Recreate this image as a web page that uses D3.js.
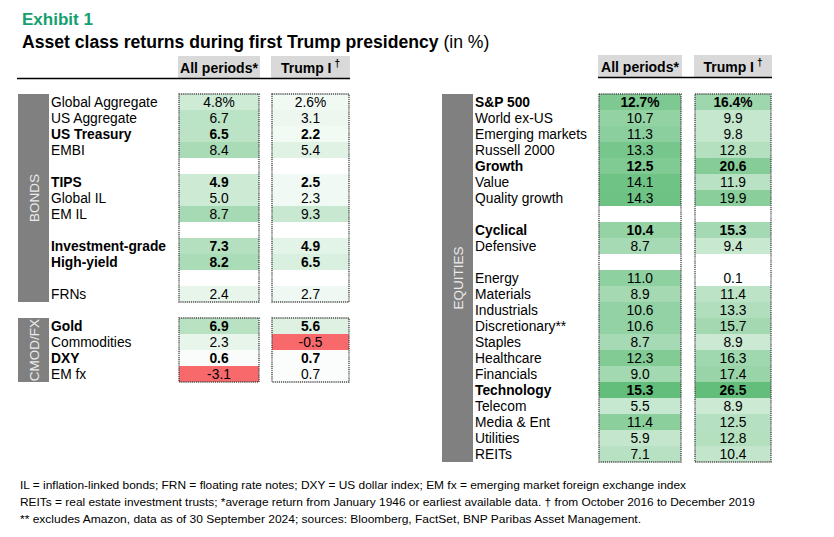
<!DOCTYPE html>
<html>
<head>
<meta charset="utf-8">
<title>Asset class returns during first Trump presidency</title>
<style>
    body { margin: 0; background: #fff; }
    svg { font-family: "Liberation Sans", Arial, sans-serif; }
</style>
</head>
<body>
<script src="https://d3js.org/d3.v7.min.js"></script>
<script>
    // rows of each block; null = blank spacer row
    const bondLabels = ["Global Aggregate", "US Aggregate", "US Treasury", "EMBI", null, "TIPS", "Global IL", "EM IL", null, "Investment-grade", "High-yield", null, "FRNs"];
    const bondAll    = [4.8, 6.7, 6.5, 8.4, null, 4.9, 5.0, 8.7, null, 7.3, 8.2, null, 2.4];
    const bondTrump  = [2.6, 3.1, 2.2, 5.4, null, 2.5, 2.3, 9.3, null, 4.9, 6.5, null, 2.7];

    const cmodLabels = ["Gold", "Commodities", "DXY", "EM fx"];
    const cmodAll    = [6.9, 2.3, 0.6, -3.1];
    const cmodTrump  = [5.6, -0.5, 0.7, 0.7];

    const eqLabels = ["S&P 500", "World ex-US", "Emerging markets", "Russell 2000", "Growth", "Value", "Quality growth", null,
        "Cyclical", "Defensive", null,
        "Energy", "Materials", "Industrials", "Discretionary**", "Staples", "Healthcare", "Financials", "Technology",
        "Telecom", "Media & Ent", "Utilities", "REITs"];
    const eqAll   = [12.7, 10.7, 11.3, 13.3, 12.5, 14.1, 14.3, null, 10.4, 8.7, null, 11.0, 8.9, 10.6, 10.6, 8.7, 12.3, 9.0, 15.3, 5.5, 11.4, 5.9, 7.1];
    const eqTrump = [16.4, 9.9, 9.8, 12.8, 20.6, 11.9, 19.9, null, 15.3, 9.4, null, 0.1, 11.4, 13.3, 15.7, 8.9, 16.3, 17.4, 26.5, 8.9, 12.5, 12.8, 10.4];

    const boldRows = ["US Treasury", "TIPS", "Investment-grade", "High-yield", "Gold", "DXY", "S&P 500", "Growth", "Cyclical", "Technology"];
    const colHeads = ["All periods*", "Trump I"];

    const footnotes = [
        "IL = inflation-linked bonds; FRN = floating rate notes; DXY = US dollar index; EM fx = emerging market foreign exchange index",
        "REITs = real estate investment trusts; *average return from January 1946 or earliest available data. \u2020 from October 2016 to December 2019",
        "** excludes Amazon, data as of 30 September 2024; sources: Bloomberg, FactSet, BNP Paribas Asset Management."
    ];

    const width = 834, height = 537, rowH = 16;

    const svg = d3.select("body").append("svg")
        .attr("width", width)
        .attr("height", height);

    // title
    svg.append("text").attr("x", 22).attr("y", 25)
        .attr("font-size", 17).attr("font-weight", "bold").attr("fill", "#14a06e")
        .text("Exhibit 1");
    const t = svg.append("text").attr("x", 22).attr("y", 48)
        .attr("font-size", 17.6).attr("font-weight", "bold").attr("fill", "#000");
    t.append("tspan").text("Asset class returns during first Trump presidency ");
    t.append("tspan").attr("font-weight", "normal").text("(in %)");

    // colour scale per column (Excel style red - white - green, white at 0)
    const allVals = bondAll.concat(cmodAll, eqAll).filter(v => v != null);
    const trumpVals = bondTrump.concat(cmodTrump, eqTrump).filter(v => v != null);
    const makeColor = vals => d3.scaleLinear()
        .domain([d3.min(vals), 0, d3.max(vals)])
        .range(["#F8696B", "#FFFFFF", "#63BE7B"])
        .interpolate(d3.interpolateRgb);
    const colorAll = makeColor(allVals);
    const colorTrump = makeColor(trumpVals);

    const fmt = (v, pct) => v.toFixed(1) + (pct ? "%" : "");

    function header(cols, y0, lineX0, lineX1) {
        cols.forEach((c, k) => {
            svg.append("rect").attr("x", c.x - 1).attr("y", y0).attr("width", c.w + 2).attr("height", 22)
                .attr("fill", "#d9d9d9");
            const tx = svg.append("text").attr("x", c.x + c.w / 2).attr("y", y0 + 17)
                .attr("text-anchor", "middle").attr("font-size", 14).attr("font-weight", "bold")
                .text(colHeads[k]);
            if (k === 1) tx.append("tspan").attr("dy", -6).attr("font-size", 10).attr("dx", 3).text("\u2020");
        });
        svg.append("line").attr("x1", lineX0).attr("x2", lineX1)
            .attr("y1", y0 + 22.5).attr("y2", y0 + 22.5)
            .attr("stroke", "#000").attr("stroke-width", 1.5);
    }

    function block(labels, all, trump, y0, barX, labelX, cols, section, pctFirst) {
        const y = d3.scaleBand().domain(d3.range(labels.length))
            .range([y0, y0 + rowH * labels.length]);
        const g = svg.append("g");

        // section bar
        g.append("rect").attr("x", barX).attr("y", y0).attr("width", 31).attr("height", rowH * labels.length)
            .attr("fill", "#808080");
        g.append("text")
            .attr("transform", `translate(${barX + 20.5},${y0 + rowH * labels.length / 2}) rotate(-90)`)
            .attr("text-anchor", "middle").attr("font-size", 13.5).attr("fill", "#ebebeb")
            .attr("font-family", "'Liberation Sans Narrow', 'Liberation Sans', Arial, sans-serif")
            .text(section);

        // labels
        g.selectAll(".lab").data(labels.map((d, i) => ({ d, i })).filter(o => o.d))
            .join("text")
            .attr("x", labelX).attr("y", o => y(o.i) + 12.5)
            .attr("font-size", 13.8)
            .attr("font-weight", o => boldRows.includes(o.d) ? "bold" : "normal")
            .text(o => o.d);

        [all, trump].forEach((vals, k) => {
            const c = cols[k];
            const color = k === 0 ? colorAll : colorTrump;
            g.append("rect").attr("x", c.x).attr("y", y0).attr("width", c.w).attr("height", rowH * labels.length)
                .attr("fill", "#fff");
            const rows = vals.map((v, i) => ({ v, i })).filter(o => o.v != null);
            g.selectAll(".cell" + k).data(rows).join("rect")
                .attr("x", c.x).attr("y", o => y(o.i))
                .attr("width", c.w).attr("height", y.bandwidth())
                .attr("fill", o => color(o.v));
            g.selectAll(".val" + k).data(rows).join("text")
                .attr("x", c.x + c.w / 2).attr("y", o => y(o.i) + 12.5)
                .attr("text-anchor", "middle").attr("font-size", 13.8)
                .attr("font-weight", o => boldRows.includes(labels[o.i]) ? "bold" : "normal")
                .text(o => fmt(o.v, pctFirst && o.i === 0));
            g.append("rect").attr("x", c.x).attr("y", y0).attr("width", c.w).attr("height", rowH * labels.length)
                .attr("fill", "none").attr("stroke", "#4a4a4a").attr("stroke-width", 1.4)
                .attr("stroke-dasharray", "1.2 0.9");
        });
    }

    const leftCols = [{ x: 179, w: 80 }, { x: 272, w: 77 }];
    const rightCols = [{ x: 599, w: 82 }, { x: 695, w: 76 }];

    header(leftCols, 56, 17, 350);
    header(rightCols, 55, 598, 772);

    block(bondLabels, bondAll, bondTrump, 94, 18, 51, leftCols, "BONDS", true);
    block(cmodLabels, cmodAll, cmodTrump, 318, 18, 51, leftCols, "CMOD/FX", false);
    block(eqLabels, eqAll, eqTrump, 94, 442, 475, rightCols, "EQUITIES", true);

    // footnotes
    const fnWidths = [666, 735, 621];
    svg.selectAll(".fn").data(footnotes).join("text")
        .attr("x", 20).attr("y", (d, i) => 489 + i * 17)
        .attr("font-size", 11.5)
        .attr("font-family", "'Liberation Sans Narrow', 'Liberation Sans', Arial, sans-serif")
        .attr("textLength", (d, i) => fnWidths[i])
        .attr("lengthAdjust", "spacingAndGlyphs")
        .text(d => d);
</script>
</body>
</html>
